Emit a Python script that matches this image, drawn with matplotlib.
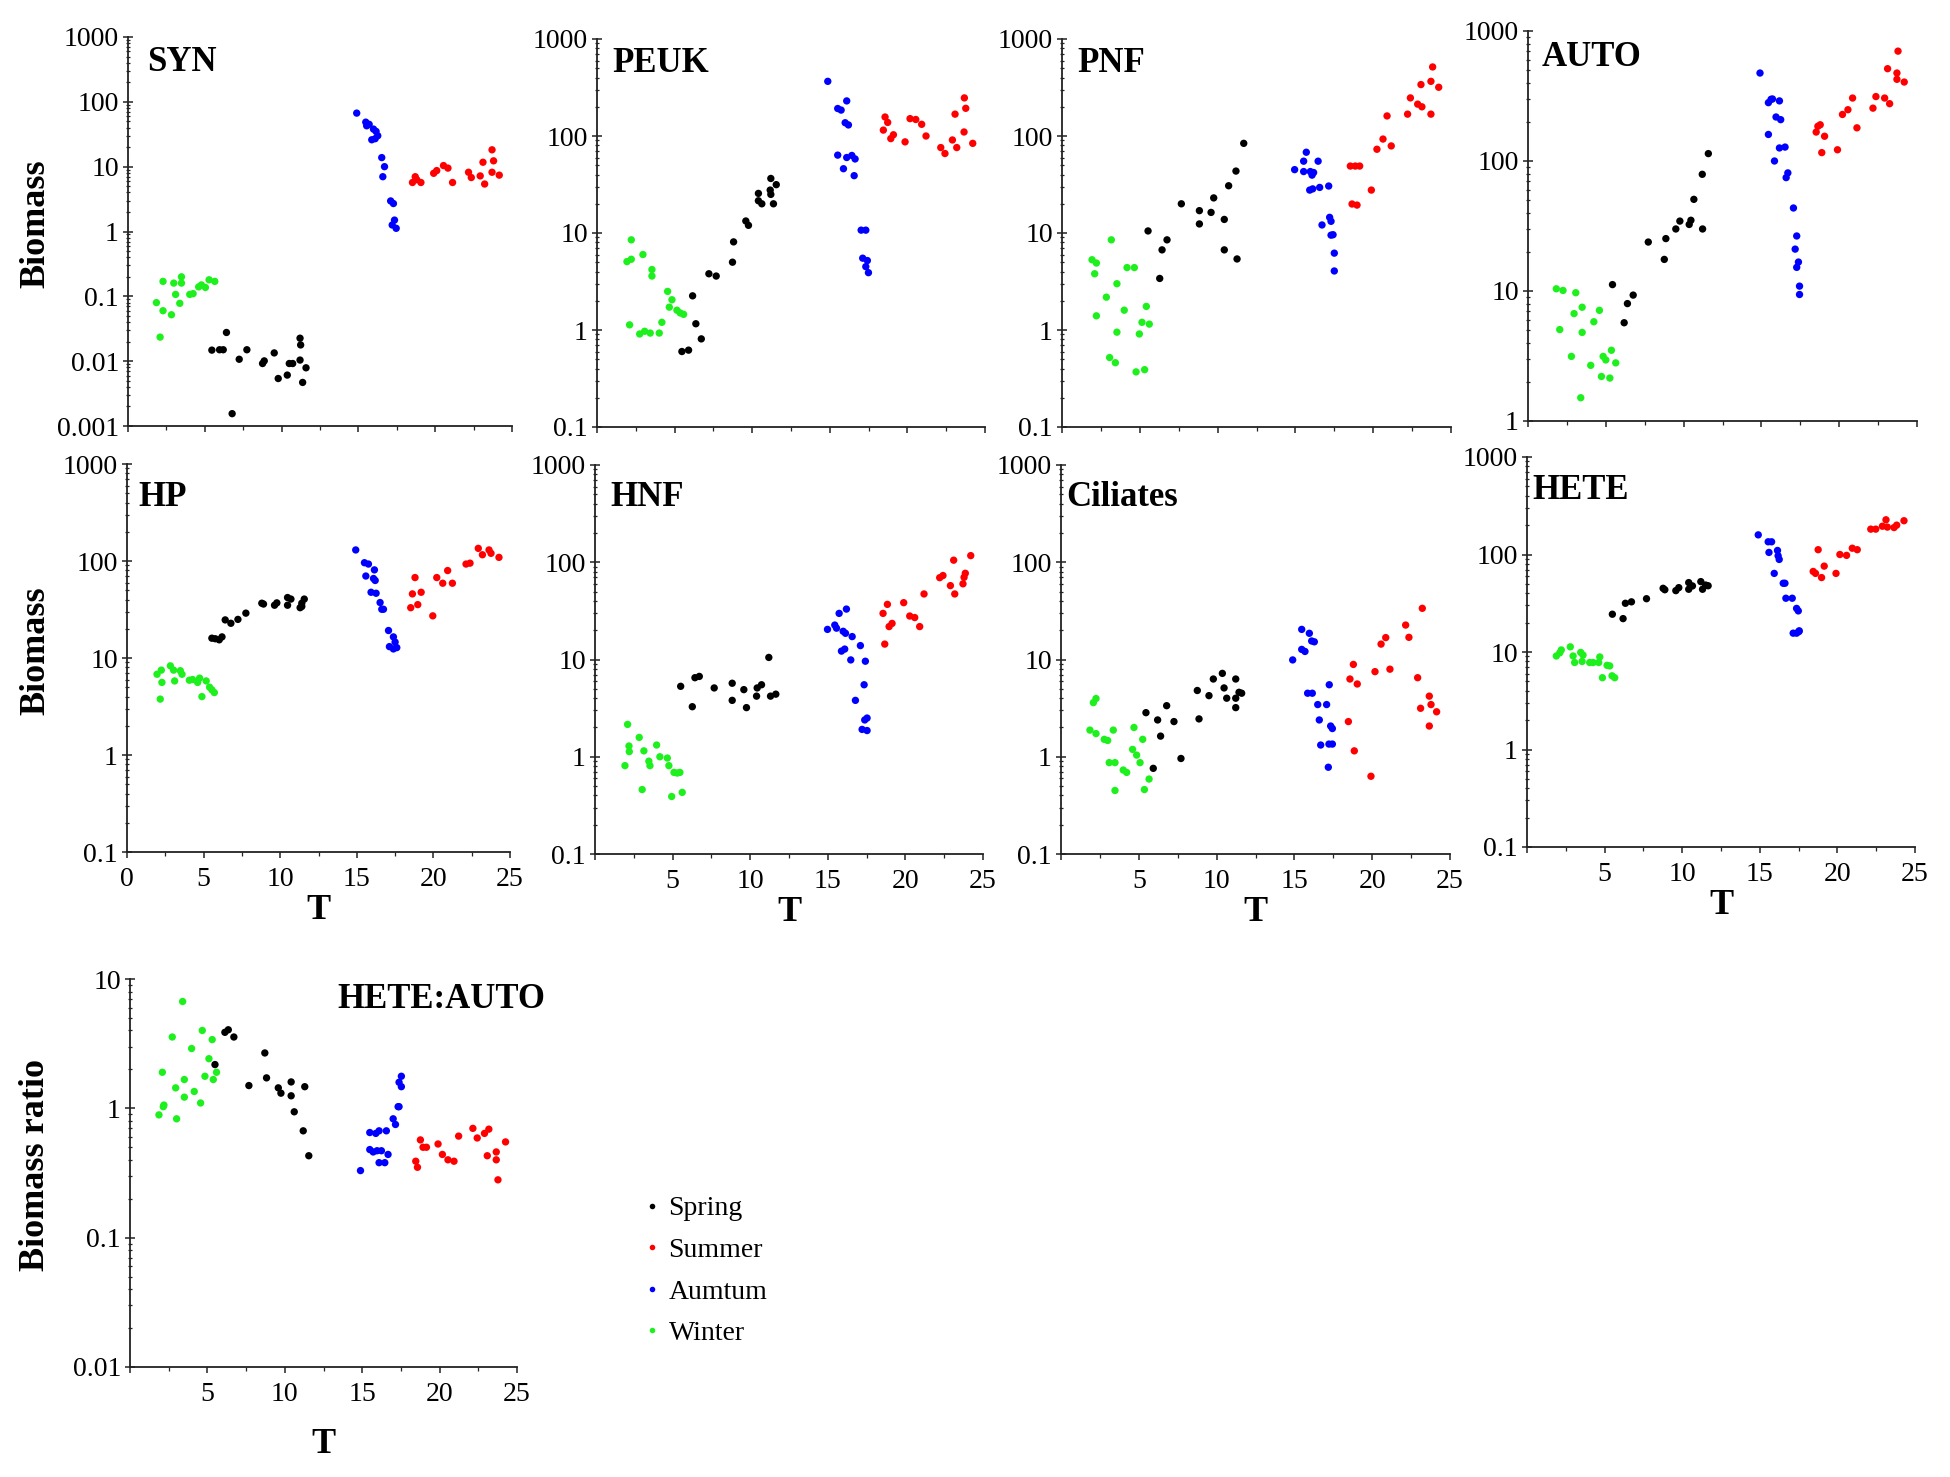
import matplotlib
matplotlib.use("Agg")
import matplotlib.pyplot as plt
from matplotlib.ticker import LogLocator, NullFormatter, FuncFormatter, MultipleLocator, FixedLocator
from matplotlib.lines import Line2D

# ---------------- data (T, biomass) ----------------
SYN_SPRING = [(5.46,0.0148),(5.96,0.015),(6.2,0.015),(6.41,0.0277),(6.78,0.00155),(7.24,0.0107),(7.74,0.015),(8.76,0.0092),(8.87,0.0101),(9.52,0.0134),(9.78,0.0054),(10.37,0.0061),(10.5,0.0092),(10.72,0.0092),(11.2,0.0226),(11.24,0.0178),(11.2,0.0104),(11.37,0.0047),(11.59,0.0079)]
SYN_SUMMER = [(18.52,5.7),(18.7,7.0),(18.8,6.3),(19.07,5.7),(19.9,7.9),(20.1,8.7),(20.54,10.4),(20.83,9.5),(21.13,5.7),(22.17,8.2),(22.35,6.8),(22.93,7.2),(23.22,5.4),(23.11,11.7),(23.7,18.2),(23.8,12.3),(23.7,8.2),(24.17,7.4)]
SYN_AUTUMN = [(14.89,67),(15.48,48.6),(15.54,42.7),(15.7,45),(15.98,38),(16.15,35),(16.26,30),(15.87,26),(16.09,27),(16.52,13.8),(16.7,10),(16.59,7.0),(17.1,2.96),(17.28,2.7),(17.35,1.5),(17.2,1.26),(17.46,1.12)]
SYN_WINTER = [(1.85,0.08),(2.28,0.17),(2.28,0.06),(2.09,0.0235),(2.83,0.052),(2.98,0.16),(3.1,0.107),(3.48,0.2),(3.48,0.16),(3.37,0.078),(4.02,0.107),(4.24,0.11),(4.6,0.14),(4.78,0.15),(5.04,0.137),(5.28,0.18),(5.65,0.17)]

PEUK_SPRING = [(5.47,0.6),(5.9,0.62),(6.16,2.25),(6.37,1.16),(6.72,0.81),(7.21,3.8),(7.68,3.6),(8.73,5.0),(8.8,8.1),(9.59,13.3),(9.76,12),(10.4,25.6),(10.4,21.5),(10.62,20),(11.16,27.7),(11.2,25),(11.2,36.5),(11.55,31.5),(11.37,20)]
PEUK_SUMMER = [(18.45,115),(18.56,157),(18.73,138),(18.93,94),(19.1,103),(19.85,87),(20.17,151),(20.54,148),(20.92,132),(21.2,100),(22.15,76),(22.42,66),(22.9,91),(23.18,76),(23.07,168),(23.65,110),(23.67,247),(23.76,193),(24.21,84)]
PEUK_AUTUMN = [(14.87,366),(15.51,192),(15.73,185),(16.09,230),(15.99,137),(16.2,130),(15.51,63.5),(15.88,46),(16.09,60),(16.42,63),(16.63,58),(16.57,39),(17.02,10.7),(17.32,10.7),(17.12,5.5),(17.42,5.2),(17.32,4.5),(17.49,3.9)]
PEUK_WINTER = [(1.93,5.07),(2.21,5.36),(2.21,8.5),(2.1,1.13),(2.75,0.91),(2.96,6.0),(3.07,0.97),(3.43,0.93),(3.54,4.2),(3.54,3.6),(4.01,0.93),(4.18,1.2),(4.55,2.5),(4.83,2.05),(4.66,1.72),(5.15,1.6),(5.36,1.5),(5.58,1.45)]

PNF_SPRING = [(5.53,10.5),(6.28,3.4),(6.43,6.7),(6.75,8.5),(7.67,20),(8.83,17),(8.83,12.4),(9.58,16.3),(9.75,23),(10.43,13.8),(10.43,6.7),(10.71,30.7),(11.18,43.5),(11.25,5.4),(11.68,84)]
PNF_SUMMER = [(18.53,49),(18.85,49),(19.13,49),(18.64,19.9),(18.96,19.4),(19.88,27.7),(20.24,73),(20.63,93),(21.16,79),(20.89,161),(22.21,168),(22.39,247),(22.86,213),(23.13,200),(23.07,339),(23.71,366),(23.82,515),(24.21,318),(23.71,168)]
PNF_AUTUMN = [(14.95,45),(15.53,55),(15.7,68),(15.53,43),(15.96,43),(16.17,42),(16.07,39.5),(16.46,55),(15.92,27.7),(16.11,28.5),(16.56,29.5),(17.14,30.5),(16.71,12.1),(17.2,14.5),(17.29,13.2),(17.29,9.5),(17.42,9.6),(17.5,6.2),(17.5,4.06)]
PNF_WINTER = [(1.93,5.3),(2.21,4.9),(2.1,3.8),(3.17,8.5),(2.21,1.4),(2.85,2.18),(3.53,3.0),(4.18,4.4),(4.65,4.4),(4.0,1.6),(3.53,0.95),(3.06,0.52),(3.43,0.46),(4.97,0.91),(5.14,1.2),(5.61,1.15),(5.42,1.75),(4.76,0.37),(5.31,0.39)]

AUTO_SPRING = [(5.43,11.2),(6.18,5.7),(6.39,8.0),(6.76,9.3),(7.73,23.8),(8.76,17.5),(8.86,25.3),(9.5,30),(9.76,34.5),(10.36,32.5),(10.47,35),(10.66,50.7),(11.22,30),(11.2,79),(11.59,114)]
AUTO_SUMMER = [(18.52,167),(18.63,185),(18.78,190),(19.06,155),(18.88,116),(19.89,122),(20.21,228),(20.56,248),(20.86,305),(21.14,180),(22.17,255),(22.36,313),(22.92,305),(23.24,276),(23.11,513),(23.71,475),(23.71,425),(23.78,700),(24.18,405)]
AUTO_AUTUMN = [(14.91,475),(15.45,281),(15.62,298),(15.71,300),(16.16,290),(15.45,160),(15.94,218),(16.24,208),(15.84,100),(16.16,126),(16.52,128),(16.59,74.5),(16.7,81),(17.06,43.5),(17.27,26.5),(17.17,21),(17.38,16.7),(17.27,15.2),(17.45,10.9),(17.45,9.4)]
AUTO_WINTER = [(1.82,10.4),(2.25,10.1),(2.04,5.05),(3.07,9.7),(2.96,6.7),(3.48,7.5),(2.79,3.14),(3.48,4.8),(4.23,5.8),(4.59,7.1),(3.39,1.51),(4.03,2.68),(4.72,2.2),(4.83,3.14),(5.0,2.95),(5.36,3.5),(5.64,2.8),(5.26,2.14)]

HP_SPRING = [(5.54,16),(5.76,15.8),(6.02,15.4),(6.2,16.5),(6.41,24.7),(6.78,22.8),(7.24,25),(7.76,29),(8.8,36.7),(8.91,36),(9.63,35),(9.78,37),(10.48,35),(10.48,42),(10.7,40.5),(11.3,33),(11.41,36.7),(11.57,40.5),(11.41,34)]
HP_SUMMER = [(18.52,33),(18.63,45.8),(18.8,67.5),(18.98,35.5),(19.2,47.6),(19.96,27.2),(20.22,67.5),(20.61,59),(20.93,79.7),(21.24,59),(22.13,93),(22.39,95),(22.93,135),(23.2,116),(23.63,130),(23.76,120),(24.28,109)]
HP_AUTUMN = [(14.93,130),(15.5,96),(15.76,93),(15.59,70),(16.15,81),(16.09,66),(16.2,63),(15.93,47.6),(16.26,46.5),(16.52,37.3),(16.63,31.8),(16.74,31.8),(17.07,19.2),(17.39,16.5),(17.5,14.6),(17.13,13.1),(17.39,12.4),(17.61,12.8)]
HP_WINTER = [(1.96,6.8),(2.24,7.5),(2.28,5.6),(2.17,3.77),(2.83,8.3),(3.04,7.5),(3.11,5.8),(3.48,7.4),(3.59,6.8),(4.07,5.9),(4.28,6.0),(4.61,5.6),(4.74,6.2),(4.89,4.0),(5.17,5.8),(5.39,5.0),(5.54,4.7),(5.7,4.4)]

HNF_SPRING = [(5.52,5.3),(6.27,3.27),(6.44,6.5),(6.72,6.7),(7.68,5.1),(8.84,5.7),(8.84,3.8),(9.59,4.9),(9.76,3.2),(10.41,4.2),(10.45,5.1),(10.73,5.5),(11.2,10.5),(11.31,4.2),(11.65,4.4)]
HNF_SUMMER = [(18.56,29.8),(18.84,36.9),(18.67,14.4),(18.95,21.8),(19.14,23.5),(19.89,38.4),(20.28,28),(20.6,27),(20.92,21.8),(21.2,47.2),(22.21,69.4),(22.42,73),(22.9,57.5),(23.11,105),(23.18,47.2),(23.71,60),(23.78,70),(23.86,77),(24.21,117)]
HNF_AUTUMN = [(14.98,20.4),(15.45,22.6),(15.56,21),(15.73,29.8),(16.2,33),(15.99,19.5),(16.14,18.6),(15.88,12.2),(16.09,12.8),(16.48,9.9),(16.57,17.2),(17.1,13.9),(17.42,9.6),(16.78,3.8),(17.34,5.5),(17.38,2.39),(17.53,2.5),(17.21,1.91),(17.53,1.86)]
HNF_WINTER = [(1.93,0.81),(2.1,2.15),(2.19,1.29),(2.21,1.13),(2.85,1.58),(3.15,1.15),(3.04,0.46),(3.47,0.9),(3.54,0.81),(3.97,1.32),(4.18,1.0),(4.66,0.97),(4.76,0.81),(5.09,0.69),(5.3,0.68),(5.47,0.69),(4.94,0.39),(5.62,0.43)]

CIL_SPRING = [(5.46,2.84),(5.93,0.76),(6.21,2.39),(6.4,1.63),(6.79,3.35),(7.26,2.3),(7.71,0.96),(8.76,4.8),(8.87,2.45),(9.51,4.25),(9.79,6.3),(10.37,7.2),(10.48,5.1),(10.65,4.0),(11.23,6.3),(11.23,4.0),(11.23,3.2),(11.44,4.6),(11.61,4.5)]
CIL_SUMMER = [(18.57,6.3),(18.79,8.9),(19.04,5.6),(18.47,2.3),(18.85,1.15),(19.92,0.63),(20.18,7.5),(20.57,14.4),(20.87,16.8),(21.14,7.95),(22.15,22.6),(22.36,16.9),(22.92,6.5),(23.22,33.6),(23.11,3.15),(23.67,4.2),(23.78,3.44),(23.67,2.07),(24.14,2.9)]
CIL_AUTUMN = [(14.89,9.9),(15.47,20.4),(15.47,12.7),(15.68,12.1),(15.96,18.6),(16.11,15.5),(16.28,15.2),(15.85,4.5),(16.15,4.5),(16.5,3.44),(16.6,2.39),(16.69,1.32),(17.07,3.44),(17.24,5.5),(17.33,2.07),(17.44,1.95),(17.22,1.35),(17.44,1.35),(17.18,0.78)]
CIL_WINTER = [(1.86,1.88),(2.25,1.73),(2.08,3.6),(2.25,3.97),(2.78,1.51),(3.0,1.47),(3.1,0.87),(3.47,0.87),(3.36,1.88),(3.47,0.45),(4.0,0.73),(4.22,0.69),(4.69,2.0),(4.6,1.19),(4.86,1.04),(5.08,0.87),(5.25,1.51),(5.36,0.46),(5.66,0.59)]

HETE_SPRING = [(5.5,24.4),(6.19,22),(6.34,31.6),(6.73,32.7),(7.7,35.2),(8.77,45),(8.88,43.5),(9.59,42.6),(9.78,45.7),(10.42,51.5),(10.42,44),(10.66,47.6),(11.2,52.7),(11.31,44),(11.51,48.6),(11.67,47.8)]
HETE_SUMMER = [(18.44,67),(18.59,64),(18.76,112),(18.98,58),(19.15,76),(19.91,64),(20.16,100),(20.59,98),(20.96,116),(21.28,112),(22.15,182),(22.47,182),(22.9,195),(23.13,227),(23.22,191),(23.65,189),(23.82,200),(24.29,222)]
HETE_AUTUMN = [(14.9,159),(15.54,135),(15.76,135),(15.59,105),(16.14,110),(16.18,97),(16.25,89),(15.93,64),(16.51,50.7),(16.62,50.7),(16.68,35.6),(17.09,35.6),(17.37,28),(17.48,26.4),(17.15,15.6),(17.37,15.6),(17.52,16.2),(17.54,16.5)]
HETE_WINTER = [(1.89,9.1),(2.11,9.8),(2.21,10.5),(2.79,11.3),(2.97,9.1),(3.07,7.8),(3.46,9.9),(3.55,8.0),(3.61,9.3),(4.04,7.8),(4.26,7.8),(4.62,7.8),(4.69,8.9),(5.16,7.3),(5.33,7.2),(4.86,5.45),(5.48,5.7),(5.65,5.45)]

RATIO_SPRING = [(5.49,2.18),(6.13,3.87),(6.35,4.05),(6.71,3.56),(7.68,1.5),(8.71,2.68),(8.82,1.72),(9.58,1.44),(9.75,1.31),(10.41,1.6),(10.41,1.25),(10.61,0.94),(11.29,1.47),(11.19,0.67),(11.55,0.43)]
RATIO_SUMMER = [(18.46,0.39),(18.57,0.35),(18.76,0.57),(18.93,0.5),(19.15,0.5),(19.9,0.53),(20.18,0.44),(20.54,0.4),(20.93,0.39),(21.23,0.61),(22.15,0.7),(22.43,0.59),(22.9,0.64),(23.18,0.69),(23.08,0.43),(23.66,0.46),(23.66,0.4),(23.77,0.28),(24.26,0.55)]
RATIO_AUTUMN = [(14.89,0.33),(15.49,0.65),(15.88,0.64),(16.09,0.67),(16.56,0.67),(15.49,0.48),(15.71,0.46),(15.96,0.47),(16.24,0.47),(16.67,0.44),(16.09,0.38),(16.46,0.38),(17.0,0.83),(17.15,0.75),(17.32,1.03),(17.38,1.03),(17.38,1.59),(17.53,1.77),(17.53,1.47)]
RATIO_WINTER = [(1.87,0.89),(2.09,1.9),(2.15,1.03),(2.19,1.06),(2.73,3.56),(2.95,1.44),(3.01,0.83),(3.4,6.7),(3.51,1.67),(3.51,1.22),(3.98,2.9),(4.15,1.35),(4.56,1.1),(4.67,4.0),(4.84,1.77),(5.1,2.42),(5.31,3.4),(5.38,1.67),(5.59,1.9)]

SEASON_LABELS = ["Spring", "Summer", "Aumtum", "Winter"]
SEASON_COLORS = ["#000000", "#ff0000", "#0000ff", "#1ef01e"]
X_TICKS = [0, 5, 10, 15, 20, 25]

# ---------------- layout ----------------
W, H = 1950, 1477
plt.rcParams['font.family'] = ['Liberation Serif', 'DejaVu Serif']
fig = plt.figure(figsize=(W / 100, H / 100), dpi=100)

# name, data per season, ylim, axes box (L,R,T,B px), title pos (px), ylabel, xlabel, x tick labels on, show 0 label
panels = [
    ("SYN", [SYN_SPRING, SYN_SUMMER, SYN_AUTUMN, SYN_WINTER], (0.001, 1000), (128, 512, 37, 426), (147, 46), "Biomass", None, False, False),
    ("PEUK", [PEUK_SPRING, PEUK_SUMMER, PEUK_AUTUMN, PEUK_WINTER], (0.1, 1000), (597, 985, 39, 427), (612, 47), None, None, False, False),
    ("PNF", [PNF_SPRING, PNF_SUMMER, PNF_AUTUMN, PNF_WINTER], (0.1, 1000), (1062, 1451, 39, 427), (1077, 47), None, None, False, False),
    ("AUTO", [AUTO_SPRING, AUTO_SUMMER, AUTO_AUTUMN, AUTO_WINTER], (1, 1000), (1528, 1917, 31, 421), (1542, 41), None, None, False, False),
    ("HP", [HP_SPRING, HP_SUMMER, HP_AUTUMN, HP_WINTER], (0.1, 1000), (127, 510, 464, 852), (138, 481), "Biomass", "T", True, True),
    ("HNF", [HNF_SPRING, HNF_SUMMER, HNF_AUTUMN, HNF_WINTER], (0.1, 1000), (595, 983, 465, 854), (610, 481), None, "T", True, False),
    ("Ciliates", [CIL_SPRING, CIL_SUMMER, CIL_AUTUMN, CIL_WINTER], (0.1, 1000), (1061, 1450, 465, 854), (1066, 481), None, "T", True, False),
    ("HETE", [HETE_SPRING, HETE_SUMMER, HETE_AUTUMN, HETE_WINTER], (0.1, 1000), (1527, 1915, 457, 847), (1532, 474), None, "T", True, False),
    ("HETE:AUTO", [RATIO_SPRING, RATIO_SUMMER, RATIO_AUTUMN, RATIO_WINTER], (0.01, 10), (130, 517, 979, 1367), (337, 983), "Biomass ratio", "T", True, False),
]

draw_order = [3, 0, 2, 1]

for (name, series, ylim, box, tpos, ylab, xlab, xlabels_on, show0) in panels:
    L, R, T, B = box
    ax = fig.add_axes([L / W, 1 - B / H, (R - L) / W, (B - T) / H])
    for si in draw_order:
        pts = series[si]
        ax.scatter([p[0] for p in pts], [p[1] for p in pts], s=28, c=SEASON_COLORS[si],
                   edgecolors='none', zorder=3, clip_on=False)
    ax.set_yscale('log')
    ax.set_ylim(*ylim)
    ax.set_xlim(0, 25)
    for sp in ('top', 'right'):
        ax.spines[sp].set_visible(False)
    for sp in ('left', 'bottom'):
        ax.spines[sp].set_linewidth(1.3)
        ax.spines[sp].set_color('#222222')
    ax.yaxis.set_major_locator(LogLocator(base=10, numticks=12))
    ax.yaxis.set_minor_locator(LogLocator(base=10, subs=range(2, 10), numticks=12))
    ax.yaxis.set_major_formatter(FuncFormatter(lambda v, p: f"{v:g}"))
    ax.yaxis.set_minor_formatter(NullFormatter())
    ax.xaxis.set_major_locator(FixedLocator(X_TICKS))
    ax.xaxis.set_minor_locator(MultipleLocator(2.5))
    if show0:
        ax.xaxis.set_major_formatter(FuncFormatter(lambda v, p: f"{v:g}"))
    else:
        ax.xaxis.set_major_formatter(FuncFormatter(lambda v, p: "" if v == 0 else f"{v:g}"))
    ax.tick_params(axis='y', which='major', direction='inout', length=7, width=1.1,
                   labelsize=20, pad=3, color='#222222')
    ax.tick_params(axis='y', which='minor', direction='inout', length=3.5, width=0.9, color='#222222')
    ax.tick_params(axis='x', which='major', direction='out', length=4, width=1.1,
                   labelsize=20, pad=7, color='#222222', labelbottom=xlabels_on)
    ax.tick_params(axis='x', which='minor', direction='out', length=3, width=0.9, color='#222222')
    if ylab:
        ax.set_ylabel(ylab, fontsize=26, fontweight='bold')
        ax.yaxis.set_label_coords((52 - L) / (R - L), 0.52)
    if xlab:
        ax.set_xlabel(xlab, fontsize=26, fontweight='bold')
        off = 61 if name == "HETE:AUTO" else 42
        ax.xaxis.set_label_coords(0.5, -off / (B - T))
    fig.text(tpos[0] / W, 1 - tpos[1] / H, name, fontsize=25, fontweight='bold',
             ha='left', va='top')

handles = [Line2D([], [], linestyle='none', marker='o', markersize=4, color=c, markeredgewidth=0)
           for c in SEASON_COLORS]
fig.legend(handles, SEASON_LABELS, loc='upper left', bbox_to_anchor=(645 / W, 1 - 1196 / H),
           frameon=False, fontsize=20, handlelength=0.5, handletextpad=0.35,
           labelspacing=0.58, borderpad=0, borderaxespad=0)

fig.savefig("out.png", dpi=100)
